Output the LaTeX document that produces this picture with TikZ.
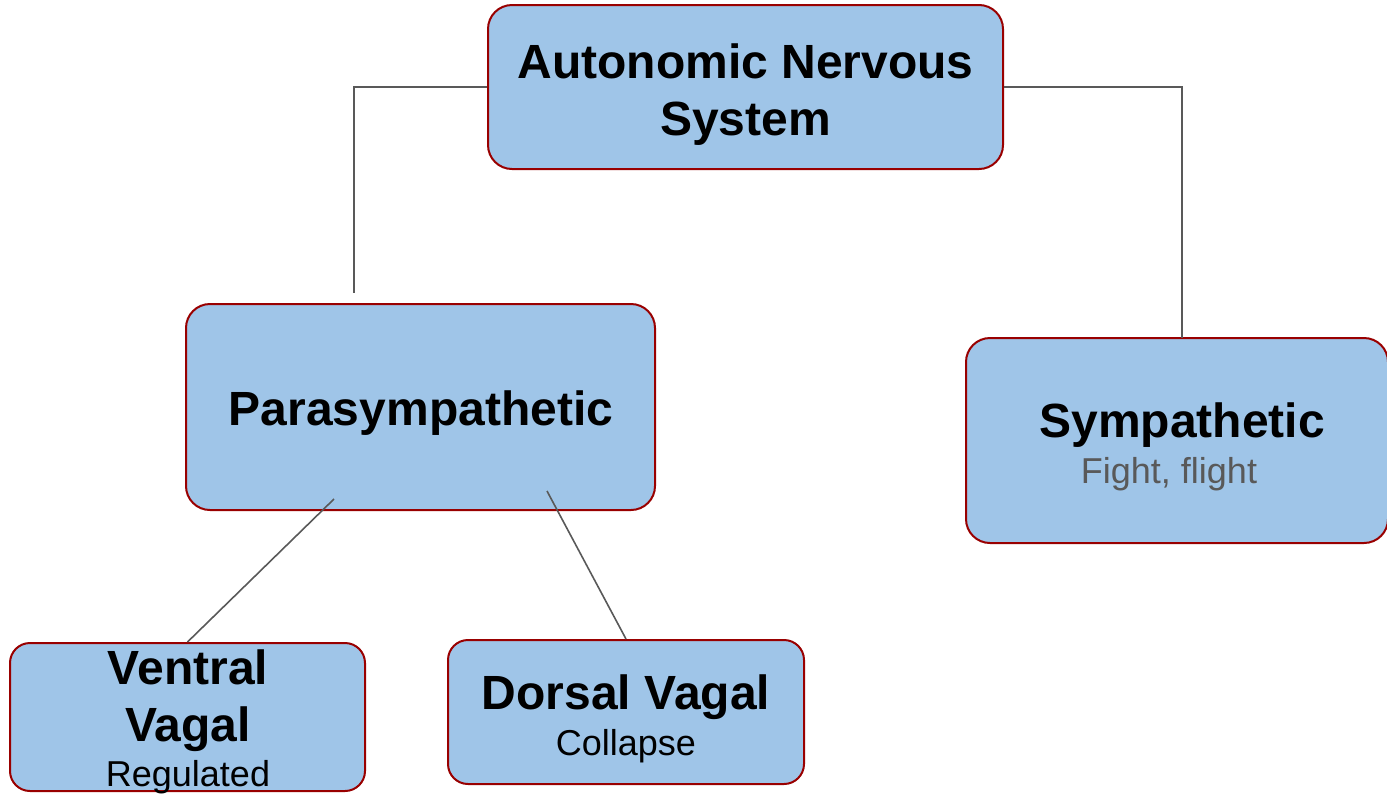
\documentclass[tikz,border=0pt]{standalone}
\usepackage{fontspec}
\setmainfont{Liberation Sans}
\begin{document}
\begin{tikzpicture}[x=1pt,y=-1pt,
  box/.style={draw=boxborder, fill=boxfill, line width=2pt, rounded corners=24pt, inner sep=0pt},
  conn/.style={draw=connc, line width=1.6pt},
  bigt/.style={font=\bfseries\fontsize{48}{57}\selectfont, anchor=base, inner sep=0pt},
  smallt/.style={font=\fontsize{36}{43}\selectfont, anchor=base, inner sep=0pt}]
\definecolor{boxfill}{HTML}{9FC5E8}
\definecolor{boxborder}{HTML}{990000}
\definecolor{connc}{HTML}{595959}
\definecolor{graytext}{HTML}{595959}
\useasboundingbox (0,0) rectangle (1387,796);
% boxes
\node[box, minimum width=515pt, minimum height=164pt] (ans) at (745.5,87) {};
\node[box, minimum width=469pt, minimum height=206pt] (para) at (420.5,407) {};
\node[box, minimum width=422pt, minimum height=205pt] (symp) at (1177,440.5) {};
\node[box, rounded corners=20pt, minimum width=355pt, minimum height=148pt] (vv) at (187.5,717) {};
\node[box, rounded corners=20pt, minimum width=356pt, minimum height=144pt] (dv) at (626,712) {};
% connector points
\coordinate (pfree) at (354,293);
\coordinate (sjoin) at (1182,338);
\coordinate (pa) at (334,499);
\coordinate (pb) at (547,491);
% connectors
\draw[conn] (ans.west) -| (pfree);
\draw[conn] (ans.east) -| (sjoin);
\draw[conn] (pa) -- (vv.north);
\draw[conn] (pb) -- (dv.north);
% texts
\node[bigt] (t1) at (745.5,78) {Autonomic Nervous};
\node[bigt] (t2) at (745.5,135) {System};
\node[bigt] (t3) at (421,425) {Parasympathetic};
\node[bigt] (t4) at (1182,437) {Sympathetic};
\node[smallt, text=graytext] (t5) at (1169,483) {Fight, flight};
\node[bigt] (t6) at (188,684) {Ventral};
\node[bigt] (t7) at (188,741) {Vagal};
\node[smallt] (t8) at (188,786) {Regulated};
\node[bigt] (t9) at (626,709) {Dorsal Vagal};
\node[smallt] (t10) at (626,755) {Collapse};
\end{tikzpicture}
\end{document}
